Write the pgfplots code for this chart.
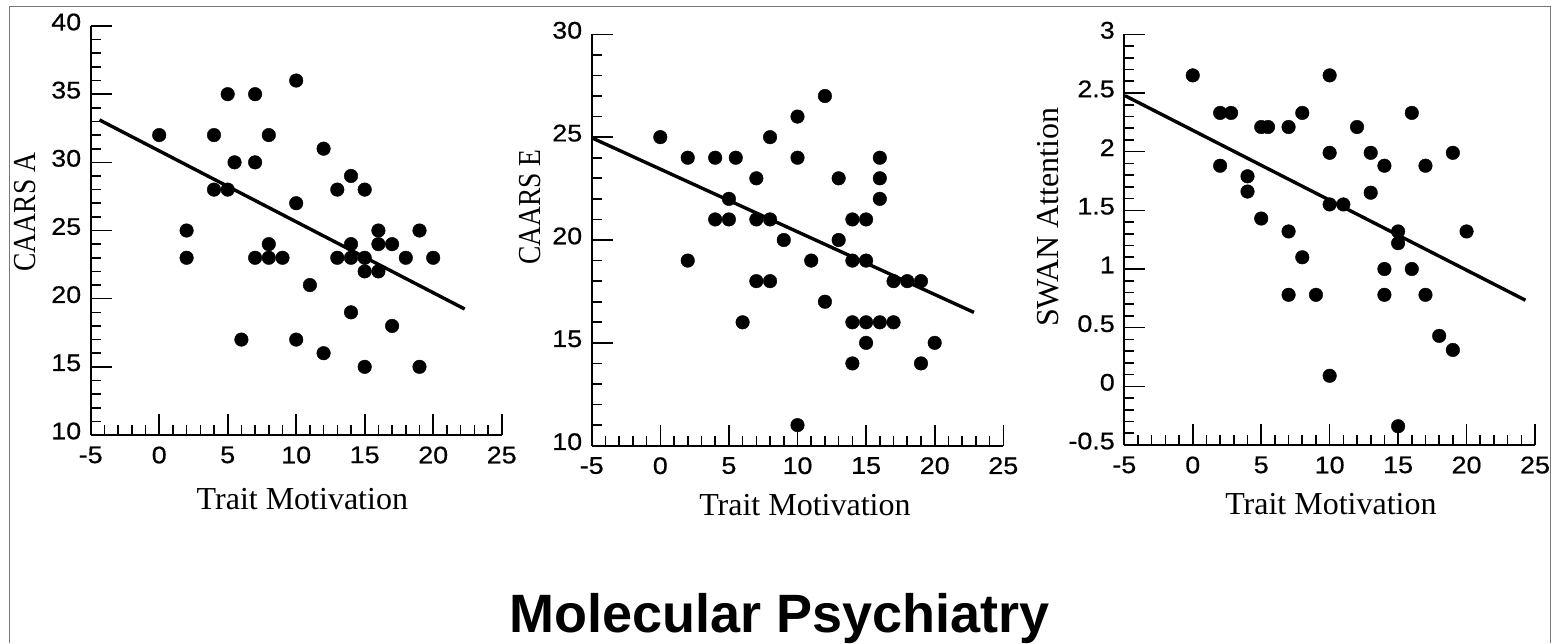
\documentclass[border=0pt]{standalone}
\usepackage{fontspec}
\setmainfont{Liberation Serif}
\newfontfamily\sansf{Liberation Sans}
\newfontfamily\condserif[FakeStretch=0.86]{Liberation Serif}
\newfontfamily\ticksf[FakeStretch=1.12,FakeBold=0.6]{Liberation Sans}
\usepackage{pgfplots}
\pgfplotsset{compat=1.18}
\definecolor{framegray}{RGB}{120,120,120}
\pgfplotsset{
 panel/.style={
  scale only axis,
  xmin=-5,xmax=25,
  axis x line*=bottom, axis y line*=left,
  axis line style={line width=2.2pt},
  tick align=inside,
  major tick length=21pt, minor tick length=10pt,
  tick style={black, line width=1.6pt},
  xtick={-5,0,5,10,15,20,25},
  minor x tick num=4, minor y tick num=4,
  tick label style={font=\ticksf\fontsize{24}{24}\selectfont},
  yticklabel style={yshift=4pt, xshift=-6pt},
  xticklabel style={yshift=-8pt},
  /pgf/number format/assume math mode=true,
  label style={font=\fontsize{32}{36}\selectfont},
  xlabel={Trait Motivation},
  clip=false,
 },
 pts/.style={only marks, mark=*, mark size=6.8pt, black, mark options={draw=black, fill=black}},
 fitline/.style={no marks, black, line width=3.4pt},
}
\begin{document}
\begin{tikzpicture}
\useasboundingbox (0pt,0pt) rectangle (1551pt,-643pt);
\fill[white] (0pt,0pt) rectangle (1551pt,-643pt);
\draw[line width=1pt, framegray] (9pt,-643pt) -- (9pt,-6pt) -- (1550pt,-6pt) -- (1550pt,-643pt);

% Panel 1
\begin{axis}[panel, at={(90.7pt,-435pt)}, anchor=south west,
  width=411pt, height=409pt, ymin=10, ymax=40, ytick={10,15,20,25,30,35,40},
  ylabel={CAARS A},
  ylabel style={font=\condserif\fontsize{32}{36}\selectfont, at={(axis description cs:-0.16,0.545)}, anchor=center},
  xlabel style={at={(axis description cs:0.515,-0.183)}, anchor=base}]
\addplot[pts] coordinates {
(0,32) (2,25) (2,23) (4,32) (4,28) (5,35) (5,28) (5.5,30) (6,17) (7,35) (7,30) (7,23)
(8,32) (8,24) (8,23) (9,23) (10,36) (10,27) (10,17) (11,21) (12,31) (12,16) (13,28)
(13,23) (14,29) (14,24) (14,23) (14,19) (15,28) (15,23) (15,22) (15,15) (16,25) (16,24)
(16,22) (17,24) (17,18) (18,23) (19,25) (19,15) (20,23)};
\addplot[fitline] coordinates {(-4.36,33.11) (22.3,19.24)};
\end{axis}

% Panel 2
\begin{axis}[panel, at={(591.7pt,-445.7pt)}, anchor=south west,
  width=411.6pt, height=411.4pt, ymin=10, ymax=30, ytick={10,15,20,25,30},
  ylabel={CAARS E},
  ylabel style={font=\condserif\fontsize{32}{36}\selectfont, at={(axis description cs:-0.15,0.58)}, anchor=center},
  xlabel style={at={(axis description cs:0.518,-0.17)}, anchor=base}]
\addplot[pts] coordinates {
(0,25) (2,24) (2,19) (4,24) (4,21) (5.5,24) (5,22) (5,21) (6,16) (7,23) (7,21) (7,18)
(8,25) (8,21) (8,18) (9,20) (10,26) (10,24) (10,11) (11,19) (12,27) (12,17) (13,23)
(13,20) (14,21) (14,19) (14,16) (14,14) (15,21) (15,19) (15,16) (15,15) (16,24) (16,23)
(16,22) (16,16) (17,18) (17,16) (18,18) (19,18) (19,14) (20,15)};
\addplot[fitline] coordinates {(-5,24.97) (22.86,16.48)};
\end{axis}

% Panel 3
\begin{axis}[panel, at={(1124.3pt,-445pt)}, anchor=south west,
  width=410.7pt, height=410.7pt, ymin=-0.5, ymax=3, ytick={-0.5,0,0.5,1,1.5,2,2.5,3},
  ylabel={SWAN Attention},
  ylabel style={at={(axis description cs:-0.186,0.555)}, anchor=center},
  xlabel style={at={(axis description cs:0.503,-0.17)}, anchor=base}]
\addplot[pts] coordinates {
(0,2.65) (2,2.33) (2,1.88) (2.8,2.33) (4,1.79) (4,1.66) (5,1.43) (5,2.21) (5.5,2.21)
(7,2.21) (7,1.32) (7,0.78) (8,2.33) (8,1.10) (9,0.78) (10,2.65) (10,1.99) (10,1.55)
(10,0.09) (11,1.55) (12,2.21) (13,1.99) (13,1.65) (14,1.88) (14,1.0) (14,0.78) (15,1.32)
(15,1.22) (15,-0.34) (16,2.33) (16,1.0) (17,1.88) (17,0.78) (18,0.43) (19,1.99) (19,0.31)
(20,1.32)};
\addplot[fitline] coordinates {(-4.95,2.477) (24.3,0.734)};
\end{axis}

\node[anchor=base, font=\sansf\bfseries\fontsize{54}{60}\selectfont] at (779.5pt,-632pt) {Molecular Psychiatry};
\end{tikzpicture}
\end{document}
